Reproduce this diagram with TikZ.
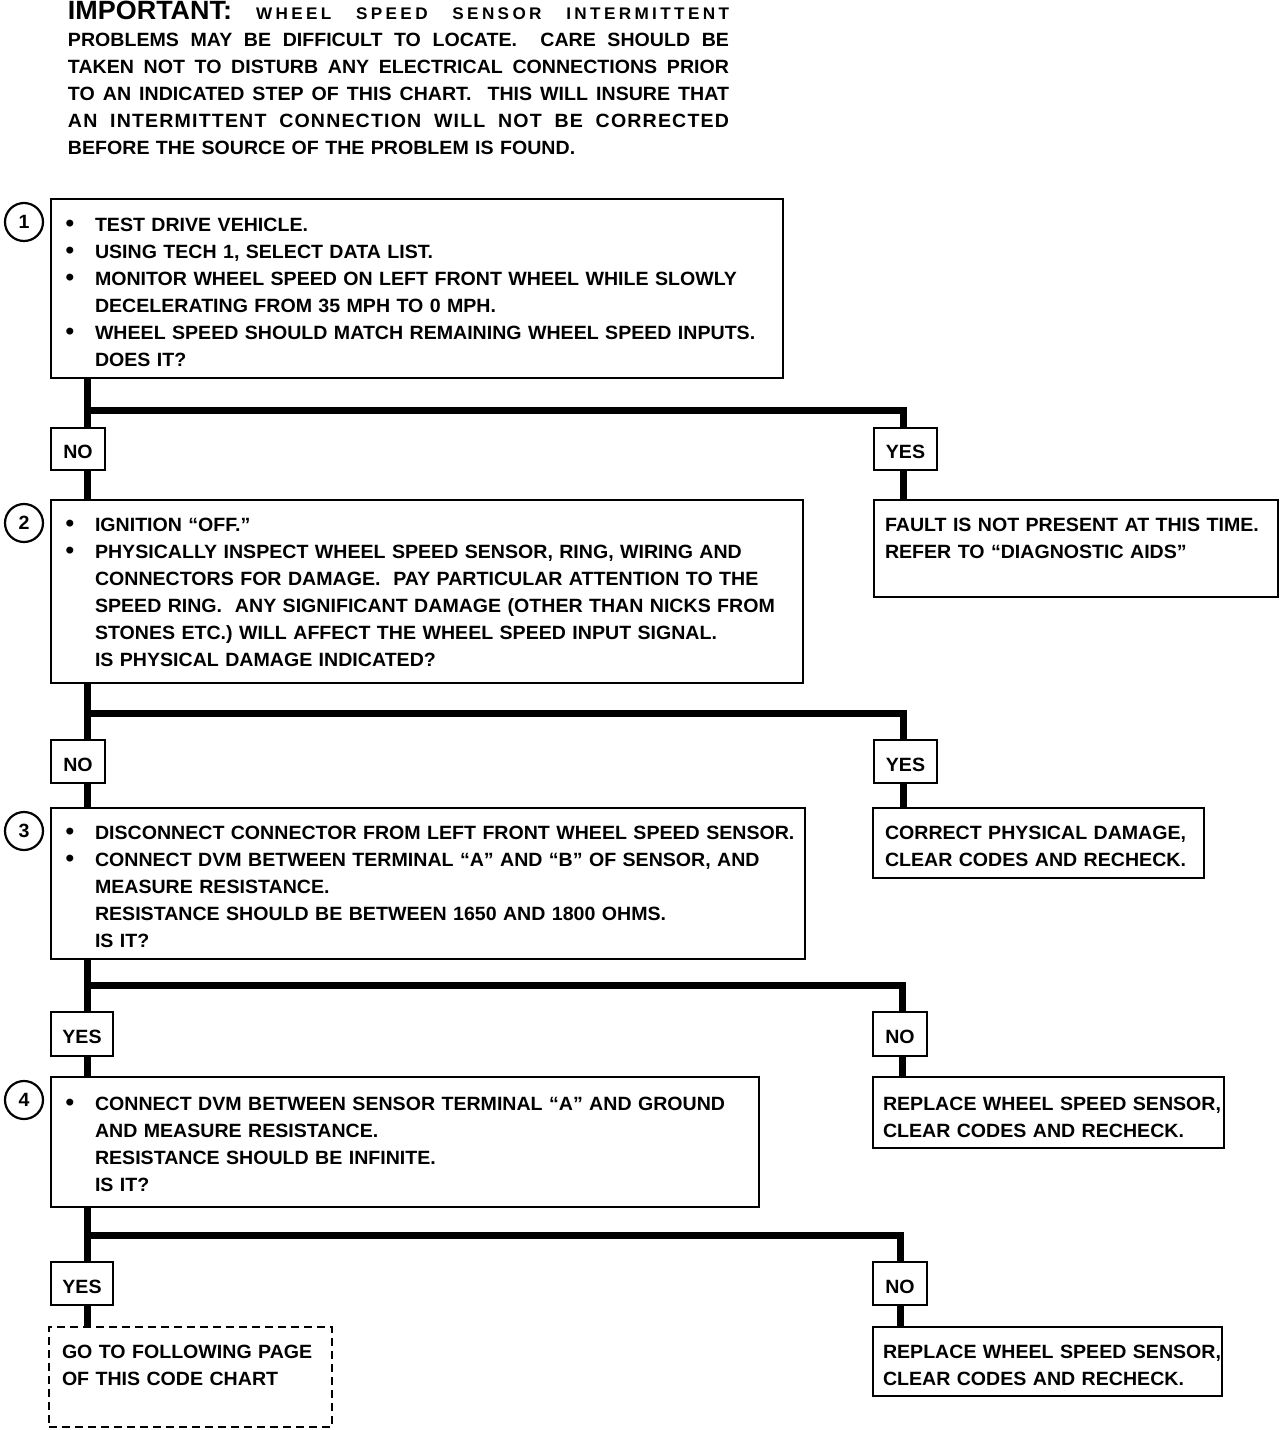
\documentclass[tikz,border=0pt]{standalone}
\usepackage{fontspec}
\setmainfont{Liberation Sans}[FakeStretch=1.02]
\newcommand\chtxt{\fontsize{9.6}{13.5}\selectfont\bfseries}
\newcommand\bl{\leavevmode\llap{\makebox[25pt][c]{\fontsize{12}{12}\selectfont\textbullet}}}
\newcommand\jline[1]{\leavevmode\hbox to 330.5pt{\spaceskip=0.25em plus 1fil\relax #1}}
\begin{document}
\begin{tikzpicture}[x=0.5pt,y=-0.5pt,
  every node/.style={inner sep=0pt, outer sep=0pt},
  box/.style={draw, line width=1.2pt, anchor=north west},
  dbox/.style={draw, line width=1.2pt, anchor=north west, dash pattern=on 4pt off 2.5pt},
  lbl/.style={draw, line width=1.2pt, anchor=north west, font=\chtxt, text height=9.9pt, text depth=0pt},
  txt/.style={anchor=north west, align=left, text width=420pt, font=\chtxt},
  conn/.style={line width=3.5pt},
  num/.style={draw, circle, line width=1.1pt, minimum size=19pt, font=\chtxt}
]
\useasboundingbox (0,0) rectangle (1280,1430);

% important note
\node[txt, text width=340pt] (imp) at (68,0.1) {%
\strut\jline{{\fontsize{13.2}{13.5}\selectfont IMPORTANT:}\hspace{12pt}{\fontsize{8.4}{13.5}\selectfont\addfontfeatures{LetterSpace=20}WHEEL SPEED SENSOR INTERMITTENT}}\\
\jline{PROBLEMS MAY BE DIFFICULT TO LOCATE.\ \ CARE SHOULD BE}\\
\jline{TAKEN NOT TO DISTURB ANY ELECTRICAL CONNECTIONS PRIOR}\\
\jline{TO AN INDICATED STEP OF THIS CHART.\ \ THIS WILL INSURE THAT}\\
\jline{\addfontfeatures{LetterSpace=6}AN INTERMITTENT CONNECTION WILL NOT BE CORRECTED}\\
BEFORE THE SOURCE OF THE PROBLEM IS FOUND.};

% step boxes
\node[box, minimum width=366pt, minimum height=89.5pt] (b1) at (51,199) {};
\node[box, minimum width=376pt, minimum height=91.5pt] (b2) at (51,500) {};
\node[box, minimum width=377pt, minimum height=75.5pt] (b3) at (51,808) {};
\node[box, minimum width=354pt, minimum height=65pt] (b4) at (51,1077) {};

\node[num] (c1) at (24,222) {1};
\node[num] (c2) at (24,523) {2};
\node[num] (c3) at (24,831) {3};
\node[num] (c4) at (24,1100) {4};

\node[txt] (t1) at (95,212.6) {%
\strut\bl TEST DRIVE VEHICLE.\\
\bl USING TECH 1, SELECT DATA LIST.\\
\bl MONITOR WHEEL SPEED ON LEFT FRONT WHEEL WHILE SLOWLY\\
DECELERATING FROM 35 MPH TO 0 MPH.\\
\bl WHEEL SPEED SHOULD MATCH REMAINING WHEEL SPEED INPUTS.\\
DOES IT?};

\node[txt] (t2) at (95,512.6) {%
\strut\bl IGNITION ``OFF.''\\
\bl PHYSICALLY INSPECT WHEEL SPEED SENSOR, RING, WIRING AND\\
CONNECTORS FOR DAMAGE.\ \ PAY PARTICULAR ATTENTION TO THE\\
SPEED RING.\ \ ANY SIGNIFICANT DAMAGE (OTHER THAN NICKS FROM\\
STONES ETC.) WILL AFFECT THE WHEEL SPEED INPUT SIGNAL.\\
IS PHYSICAL DAMAGE INDICATED?};

\node[txt] (t3) at (95,820.6) {%
\strut\bl DISCONNECT CONNECTOR FROM LEFT FRONT WHEEL SPEED SENSOR.\\
\bl CONNECT DVM BETWEEN TERMINAL ``A'' AND ``B'' OF SENSOR, AND\\
MEASURE RESISTANCE.\\
RESISTANCE SHOULD BE BETWEEN 1650 AND 1800 OHMS.\\
IS IT?};

\node[txt] (t4) at (95,1091.6) {%
\strut\bl CONNECT DVM BETWEEN SENSOR TERMINAL ``A'' AND GROUND\\
AND MEASURE RESISTANCE.\\
RESISTANCE SHOULD BE INFINITE.\\
IS IT?};

% result boxes
\node[box, minimum width=202pt, minimum height=48.5pt] (r1) at (874,500) {};
\node[box, minimum width=165.5pt, minimum height=35pt] (r2) at (873,808) {};
\node[box, minimum width=175.5pt, minimum height=35.5pt] (r3) at (873,1077) {};
\node[box, minimum width=174.5pt, minimum height=34.5pt] (r4) at (873,1327) {};
\node[dbox, minimum width=141.5pt, minimum height=50pt] (g) at (49,1327) {};

\node[txt] (rt1) at (885,512.6) {\strut FAULT IS NOT PRESENT AT THIS TIME.\\ REFER TO ``DIAGNOSTIC AIDS''};
\node[txt] (rt2) at (885,820.6) {\strut CORRECT PHYSICAL DAMAGE,\\ CLEAR CODES AND RECHECK.};
\node[txt] (rt3) at (883,1091.6) {\strut REPLACE WHEEL SPEED SENSOR,\\ CLEAR CODES AND RECHECK.};
\node[txt] (rt4) at (883,1339.6) {\strut REPLACE WHEEL SPEED SENSOR,\\ CLEAR CODES AND RECHECK.};
\node[txt] (gt) at (62,1339.6) {\strut GO TO FOLLOWING PAGE\\ OF THIS CODE CHART};

% decision labels
\node[lbl, minimum width=27pt, minimum height=21pt] (n1) at (51,428) {NO};
\node[lbl, minimum width=31.5pt, minimum height=21pt] (y1) at (874,428) {YES};
\node[lbl, minimum width=27pt, minimum height=21.5pt] (n2) at (51,740) {NO};
\node[lbl, minimum width=31.5pt, minimum height=21.5pt] (y2) at (874,740) {YES};
\node[lbl, minimum width=31pt, minimum height=22pt] (y3) at (51,1012) {YES};
\node[lbl, minimum width=27pt, minimum height=22pt] (n3) at (873,1012) {NO};
\node[lbl, minimum width=31pt, minimum height=21.5pt] (y4) at (51,1262) {YES};
\node[lbl, minimum width=27pt, minimum height=21.5pt] (n4) at (873,1262) {NO};

% connectors
\coordinate (j1) at (87,410);  \coordinate (k1) at (903,410);
\coordinate (j2) at (87,713);  \coordinate (k2) at (903,713);
\coordinate (j3) at (87,985);  \coordinate (k3) at (902,985);
\coordinate (j4) at (87,1235); \coordinate (k4) at (900,1235);

\draw[conn] (b1.south -| j1) -- (j1) -- (k1) -- (k1 |- y1.north);
\draw[conn] (j1) -- (j1 |- n1.north);
\draw[conn] (j1 |- n1.south) -- (j1 |- b2.north);
\draw[conn] (k1 |- y1.south) -- (k1 |- r1.north);

\draw[conn] (b2.south -| j2) -- (j2) -- (k2) -- (k2 |- y2.north);
\draw[conn] (j2) -- (j2 |- n2.north);
\draw[conn] (j2 |- n2.south) -- (j2 |- b3.north);
\draw[conn] (k2 |- y2.south) -- (k2 |- r2.north);

\draw[conn] (b3.south -| j3) -- (j3) -- (k3) -- (k3 |- n3.north);
\draw[conn] (j3) -- (j3 |- y3.north);
\draw[conn] (j3 |- y3.south) -- (j3 |- b4.north);
\draw[conn] (k3 |- n3.south) -- (k3 |- r3.north);

\draw[conn] (b4.south -| j4) -- (j4) -- (k4) -- (k4 |- n4.north);
\draw[conn] (j4) -- (j4 |- y4.north);
\draw[conn] (j4 |- y4.south) -- (j4 |- g.north);
\draw[conn] (k4 |- n4.south) -- (k4 |- r4.north);
\end{tikzpicture}
\end{document}
